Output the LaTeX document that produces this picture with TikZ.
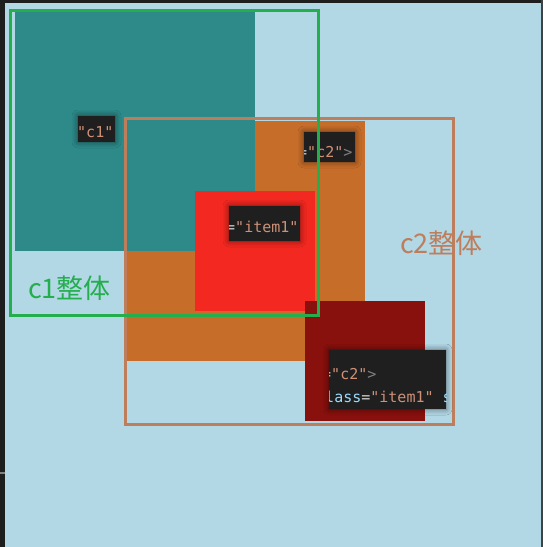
\documentclass[tikz,border=0pt]{standalone}
\usepackage{fontspec}
\setmonofont{DejaVu Sans Mono}
\newfontfamily\cjk{Noto Sans CJK SC}
\usetikzlibrary{shadows.blur}
\definecolor{pagebg}{HTML}{B2D7E5}
\definecolor{edgedark}{HTML}{1E1E1E}
\definecolor{tealbox}{HTML}{2D8A89}
\definecolor{orangebox}{HTML}{C76D2A}
\definecolor{redbox}{HTML}{F32820}
\definecolor{darkredbox}{HTML}{88100D}
\definecolor{greenframe}{HTML}{24AE4D}
\definecolor{brownframe}{HTML}{BE7D5B}
\definecolor{tipbg}{HTML}{1F1F1F}
\definecolor{tipstr}{HTML}{CE9178}
\definecolor{tipattr}{HTML}{9CDCFE}
\definecolor{tipeq}{HTML}{D4D4D4}
\definecolor{tipgt}{HTML}{808080}
\tikzset{
	tip/.style={fill=tipbg,blur shadow={shadow xshift=0pt,shadow yshift=0pt,shadow blur radius=6pt,shadow opacity=55}},
	code/.style={inner sep=0pt,anchor=base west,font=\ttfamily\fontsize{15}{15}\selectfont},
	boxframe/.style={line width=3pt},
	bigword/.style={inner sep=0pt,anchor=base west,font=\cjk\fontsize{27}{27}\selectfont}
}
\begin{document}
\begin{tikzpicture}[x=1pt,y=-1pt]
		\useasboundingbox (0,0) rectangle (543,547);
			\fill[pagebg] (0,0) rectangle (543,547);
			\fill[edgedark] (0,0) rectangle (5,547);
			\fill[edgedark] (0,0) rectangle (543,3);
			\fill[edgedark!80!pagebg] (541,0) rectangle (543,547);
			\fill[tipgt] (0,472) rectangle (5,474);
			\fill[orangebox] (125,121) rectangle (365,361);
			\fill[tealbox] (15,12) rectangle (255,251);
			\draw[boxframe,brownframe] (125.5,118.5) rectangle (453.5,424.5);
			\fill[redbox] (195,191) rectangle (315,311);
			\fill[darkredbox] (305,301) rectangle (425,421);
			\fill[tip] (78,116) rectangle (115,142);
			\begin{scope}
				\clip (78,116) rectangle (115,142);
				\node[code] (c1tip) at (77,137) {\color{tipstr}"c1"};
			\end{scope}
			\fill[tip] (304,132) rectangle (355,162);
			\begin{scope}
				\clip (304,132) rectangle (355,162);
				\node[code] (c2tip) at (298,157) {\color{tipeq}=\color{tipstr}"c2"\color{tipgt}>};
			\end{scope}
			\fill[tip] (229,206) rectangle (300,241);
			\begin{scope}
				\clip (229,206) rectangle (300,241);
				\node[code] (itemtip) at (226,232) {\color{tipeq}=\color{tipstr}"item1"};
			\end{scope}
			\fill[tip] (329,350) rectangle (446,409);
			\begin{scope}
				\clip (329,350) rectangle (446,409);
				\node[code] (bigtipa) at (322,379) {\color{tipeq}=\color{tipstr}"c2"\color{tipgt}>};
				\node[code] (bigtipb) at (316,402) {\color{tipattr}class\color{tipeq}=\color{tipstr}"item1"\ \color{tipattr}s};
			\end{scope}
			\draw[boxframe,greenframe] (10.5,10.5) rectangle (318.5,315.5);
			\node[bigword,text=greenframe] (c1label) at (28,298) {c1整体};
			\node[bigword,text=brownframe] (c2label) at (400,253) {c2整体};
	\end{tikzpicture}
\end{document}
